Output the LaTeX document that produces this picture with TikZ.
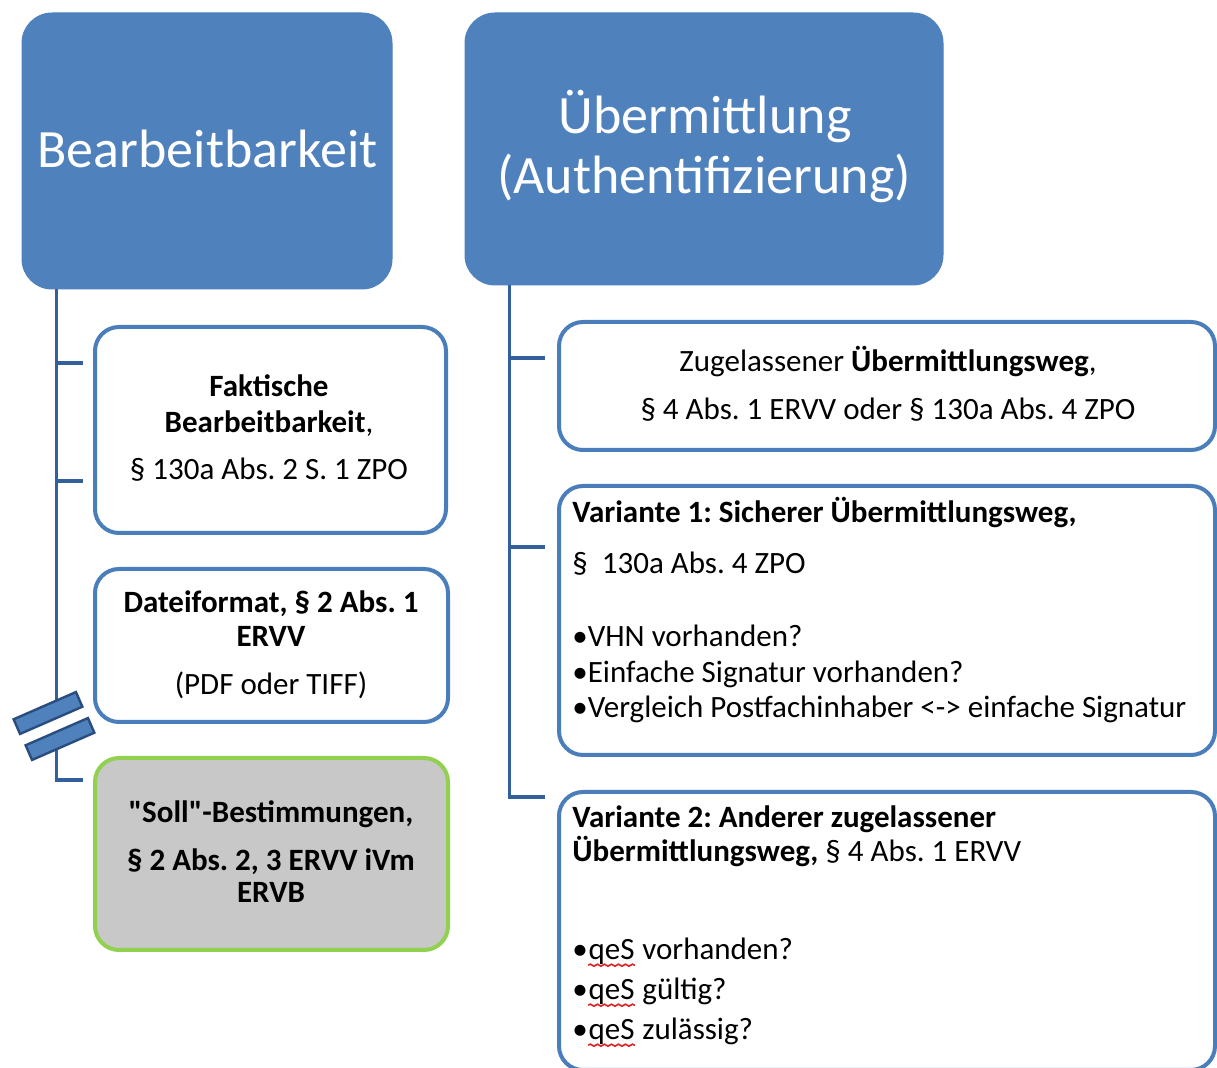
\documentclass[tikz,border=0pt]{standalone}
\usepackage{fontspec}
\setmainfont{Carlito}
\newfontfamily\carlito{Carlito}
\usetikzlibrary{calc,decorations.pathmorphing}
\definecolor{hdr}{HTML}{4F81BD}
\definecolor{bord}{HTML}{4A7EBB}
\definecolor{trk}{HTML}{33609C}
\definecolor{grayfill}{HTML}{C8C8C8}
\definecolor{grn}{HTML}{92D050}
\definecolor{bardark}{HTML}{2A4D80}
\definecolor{wave}{HTML}{E02020}
\newcommand\fsmall{\carlito\frenchspacing\fontsize{15.5}{18}\selectfont}
\newcommand\fhead{\carlito\frenchspacing\fontsize{27}{28.5}\selectfont}
\begin{document}
\begin{tikzpicture}[x=0.5pt,y=-0.5pt,
  hbox/.style={rectangle, rounded corners=15pt, fill=hdr, draw=hdr, line width=0.5pt, inner sep=0pt},
  cbox/.style={rectangle, rounded corners=12pt, draw=bord, line width=2pt, fill=white, inner sep=0pt},
  sbox/.style={cbox, draw=grn, fill=grayfill},
  trunk/.style={draw=trk, line width=1.9pt, line join=miter},
  txt/.style={anchor=base, inner sep=0pt, font=\fsmall},
  ltxt/.style={txt, anchor=base west},
  htxt/.style={anchor=base, inner sep=0pt, font=\fhead, text=white},
  brk/.style={rectangle, fill=hdr, draw=bardark, line width=1.2pt, minimum width=34pt, minimum height=8pt, inner sep=0pt, rotate=23.6},
  spell/.style={draw=wave, line width=0.8pt, decorate, decoration={snake, segment length=3.5pt, amplitude=0.5pt}}
]
\useasboundingbox (0,0) rectangle (1217,1068);
\clip (0,0) rectangle (1217,1068);

% header boxes
\node[hbox, minimum width=185pt, minimum height=138pt] (hA) at (207,151) {};
\node[hbox, minimum width=239pt, minimum height=136pt] (hB) at (704,149) {};

% child boxes
\node[cbox, minimum width=175.5pt, minimum height=103pt] (fA) at (270.5,430) {};
\node[cbox, minimum width=176.5pt, minimum height=76.5pt] (dA) at (271.5,645.5) {};
\node[sbox, minimum width=176.5pt, minimum height=96pt] (sA) at (271.5,854) {};
\node[cbox, minimum width=328pt, minimum height=64pt] (zB) at (887,386) {};
\node[cbox, minimum width=328pt, minimum height=134.5pt] (vB1) at (887,620.5) {};
\node[cbox, minimum width=328pt, minimum height=139pt] (vB2) at (887,931) {};

% header texts
\node[htxt] (tA) at (207.5,168) {Bearbeitbarkeit};
\node[htxt] (tB1) at (705,134) {Übermittlung};
\node[htxt] (tB2) at (704,194) {(Authentifizierung)};

% left texts
\node[txt] (f1) at (269,397) {\bfseries Faktische};
\node[txt] (f2) at (269,433) {\textbf{Bearbeitbarkeit},};
\node[txt] (f3) at (269,480) {§ 130a Abs. 2 S. 1 ZPO};
\node[txt] (d1) at (271,613) {\bfseries Dateiformat, § 2 Abs. 1};
\node[txt] (d2) at (271,647) {\bfseries ERVV};
\node[txt] (d3) at (271,695) {(PDF oder TIFF)};
\node[txt] (s1) at (271,823) {\bfseries "Soll"-Bestimmungen,};
\node[txt] (s2) at (271,871) {\bfseries § 2 Abs. 2, 3 ERVV iVm};
\node[txt] (s3) at (271,903) {\bfseries ERVB};

% right texts
\node[txt] (z1) at (888,372) {Zugelassener \textbf{Übermittlungsweg},};
\node[txt] (z2) at (888,420) {§ 4 Abs. 1 ERVV oder § 130a Abs. 4 ZPO};
\node[ltxt] (va1) at (572,523) {\bfseries Variante 1: Sicherer Übermittlungsweg,};
\node[ltxt] (va2) at (572,574) {§\ \ 130a Abs. 4 ZPO};
\node[ltxt] (va3) at (572,647) {•VHN vorhanden?};
\node[ltxt] (va4) at (572,683) {•Einfache Signatur vorhanden?};
\node[ltxt] (va5) at (572,718) {•Vergleich Postfachinhaber <-> einfache Signatur};
\node[ltxt] (vb1) at (572,828) {\bfseries Variante 2: Anderer zugelassener};
\node[ltxt] (vb2) at (572,862) {\textbf{Übermittlungsweg,} § 4 Abs. 1 ERVV};

\node[ltxt] (vb3) at (572,960) {•};
\node[ltxt] (q3) at (vb3.base east) {qeS};
\node[ltxt] (vb3r) at (q3.base east) {\ vorhanden?};
\node[ltxt] (vb4) at (572,1000) {•};
\node[ltxt] (q4) at (vb4.base east) {qeS};
\node[ltxt] (vb4r) at (q4.base east) {\ gültig?};
\node[ltxt] (vb5) at (572,1040) {•};
\node[ltxt] (q5) at (vb5.base east) {qeS};
\node[ltxt] (vb5r) at (q5.base east) {\ zulässig?};
\draw[spell] ([yshift=-2.6pt]q3.base west) -- ([yshift=-2.6pt]q3.base east);
\draw[spell] ([yshift=-2.6pt]q4.base west) -- ([yshift=-2.6pt]q4.base east);
\draw[spell] ([yshift=-2.6pt]q5.base west) -- ([yshift=-2.6pt]q5.base east);

% left trunk
\coordinate (jA0) at ($(hA.south west)+(35,0)$);
\coordinate (cb1) at (48,713);
\coordinate (cb2) at (60,739);
\coordinate (eA1) at (83,363);
\coordinate (eA2) at (83,481);
\coordinate (eA3) at (83,780);
\draw[trunk] (jA0) -- (jA0 |- cb1);
\draw[trunk] (jA0 |- cb2) |- (eA3);
\draw[trunk] (jA0 |- eA1) -- (eA1);
\draw[trunk] (jA0 |- eA2) -- (eA2);
\node[brk] (br1) at (cb1) {};
\node[brk] (br2) at (cb2) {};

% right trunk
\coordinate (jB0) at ($(hB.south west)+(45,0)$);
\coordinate (eB1) at (545,358);
\coordinate (eB2) at (545,547);
\coordinate (eB3) at (545,797);
\draw[trunk] (jB0) |- (eB3);
\draw[trunk] (jB0 |- eB1) -- (eB1);
\draw[trunk] (jB0 |- eB2) -- (eB2);
\end{tikzpicture}
\end{document}
